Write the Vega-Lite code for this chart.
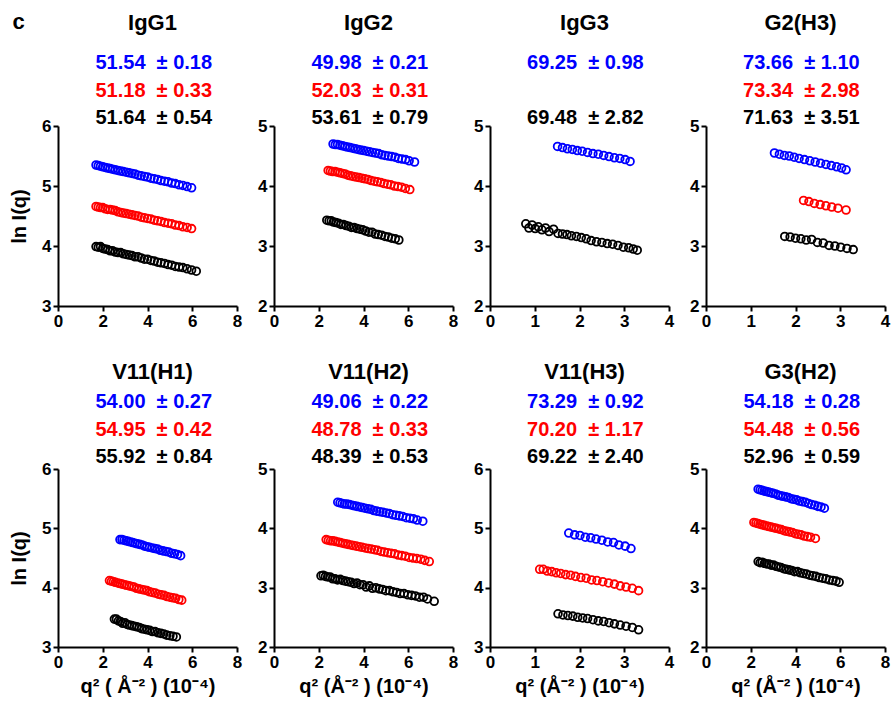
{
"$schema":"https://vega.github.io/schema/vega-lite/v6.json",
"padding":{"left":9,"top":11,"right":2,"bottom":2},
"background":"#ffffff",
"title":{"text":"c","anchor":"start","offset":-39,"dx":3,"baseline":"alphabetic","fontSize":22},
"config":{
 "font":"Liberation Sans",
 "view":{"stroke":null},
 "axis":{"domainColor":"#000000","domainWidth":2,"tickColor":"#000000","tickWidth":2,"tickSize":5,"labelFontSize":17,"labelFontWeight":"bold","labelColor":"#000000","grid":false,"labelFlush":false,"labelOverlap":false,"titleFontSize":20,"titleFontWeight":"bold","titleColor":"#000000","labelPadding":2},
 "axisY":{"titlePadding":12,"titleFontSize":20},
 "axisX":{"titlePadding":6},
 "title":{"fontSize":22,"fontWeight":"bold","color":"#000000"}
},
"datasets":{
"ann":[
{"p":"IgG1","s":"s1","label":"51.54\u00a0\u00a0± 0.18"},{"p":"IgG1","s":"s2","label":"51.18\u00a0\u00a0± 0.33"},{"p":"IgG1","s":"s3","label":"51.64\u00a0\u00a0± 0.54"},
{"p":"IgG2","s":"s1","label":"49.98\u00a0\u00a0± 0.21"},{"p":"IgG2","s":"s2","label":"52.03\u00a0\u00a0± 0.31"},{"p":"IgG2","s":"s3","label":"53.61\u00a0\u00a0± 0.79"},
{"p":"IgG3","s":"s1","label":"69.25\u00a0\u00a0± 0.98"},{"p":"IgG3","s":"s3","label":"69.48\u00a0\u00a0± 2.82"},
{"p":"G2(H3)","s":"s1","label":"73.66\u00a0\u00a0± 1.10"},{"p":"G2(H3)","s":"s2","label":"73.34\u00a0\u00a0± 2.98"},{"p":"G2(H3)","s":"s3","label":"71.63\u00a0\u00a0± 3.51"},
{"p":"V11(H1)","s":"s1","label":"54.00\u00a0\u00a0± 0.27"},{"p":"V11(H1)","s":"s2","label":"54.95\u00a0\u00a0± 0.42"},{"p":"V11(H1)","s":"s3","label":"55.92\u00a0\u00a0± 0.84"},
{"p":"V11(H2)","s":"s1","label":"49.06\u00a0\u00a0± 0.22"},{"p":"V11(H2)","s":"s2","label":"48.78\u00a0\u00a0± 0.33"},{"p":"V11(H2)","s":"s3","label":"48.39\u00a0\u00a0± 0.53"},
{"p":"V11(H3)","s":"s1","label":"73.29\u00a0\u00a0± 0.92"},{"p":"V11(H3)","s":"s2","label":"70.20\u00a0\u00a0± 1.17"},{"p":"V11(H3)","s":"s3","label":"69.22\u00a0\u00a0± 2.40"},
{"p":"G3(H2)","s":"s1","label":"54.18\u00a0\u00a0± 0.28"},{"p":"G3(H2)","s":"s2","label":"54.48\u00a0\u00a0± 0.56"},{"p":"G3(H2)","s":"s3","label":"52.96\u00a0\u00a0± 0.59"}
],
"pts":[
{"p":"IgG1","s":"s1","x":1.70,"y":5.35},{"p":"IgG1","s":"s1","x":1.80,"y":5.34},{"p":"IgG1","s":"s1","x":1.90,"y":5.33},{"p":"IgG1","s":"s1","x":2.00,"y":5.32},{"p":"IgG1","s":"s1","x":2.11,"y":5.31},{"p":"IgG1","s":"s1","x":2.22,"y":5.30},{"p":"IgG1","s":"s1","x":2.33,"y":5.29},{"p":"IgG1","s":"s1","x":2.44,"y":5.28},{"p":"IgG1","s":"s1","x":2.56,"y":5.27},{"p":"IgG1","s":"s1","x":2.68,"y":5.26},{"p":"IgG1","s":"s1","x":2.80,"y":5.25},{"p":"IgG1","s":"s1","x":2.92,"y":5.24},{"p":"IgG1","s":"s1","x":3.05,"y":5.23},{"p":"IgG1","s":"s1","x":3.18,"y":5.22},{"p":"IgG1","s":"s1","x":3.31,"y":5.21},{"p":"IgG1","s":"s1","x":3.44,"y":5.20},{"p":"IgG1","s":"s1","x":3.58,"y":5.18},{"p":"IgG1","s":"s1","x":3.72,"y":5.17},{"p":"IgG1","s":"s1","x":3.86,"y":5.16},{"p":"IgG1","s":"s1","x":4.00,"y":5.15},{"p":"IgG1","s":"s1","x":4.15,"y":5.13},{"p":"IgG1","s":"s1","x":4.30,"y":5.12},{"p":"IgG1","s":"s1","x":4.45,"y":5.11},{"p":"IgG1","s":"s1","x":4.60,"y":5.09},{"p":"IgG1","s":"s1","x":4.76,"y":5.08},{"p":"IgG1","s":"s1","x":4.92,"y":5.07},{"p":"IgG1","s":"s1","x":5.08,"y":5.05},{"p":"IgG1","s":"s1","x":5.24,"y":5.04},{"p":"IgG1","s":"s1","x":5.41,"y":5.02},{"p":"IgG1","s":"s1","x":5.58,"y":5.01},{"p":"IgG1","s":"s1","x":5.77,"y":4.99},{"p":"IgG1","s":"s1","x":5.97,"y":4.97},
{"p":"IgG1","s":"s2","x":1.70,"y":4.66},{"p":"IgG1","s":"s2","x":1.80,"y":4.65},{"p":"IgG1","s":"s2","x":1.90,"y":4.64},{"p":"IgG1","s":"s2","x":2.00,"y":4.64},{"p":"IgG1","s":"s2","x":2.11,"y":4.62},{"p":"IgG1","s":"s2","x":2.22,"y":4.61},{"p":"IgG1","s":"s2","x":2.33,"y":4.61},{"p":"IgG1","s":"s2","x":2.44,"y":4.60},{"p":"IgG1","s":"s2","x":2.56,"y":4.59},{"p":"IgG1","s":"s2","x":2.68,"y":4.57},{"p":"IgG1","s":"s2","x":2.80,"y":4.56},{"p":"IgG1","s":"s2","x":2.92,"y":4.55},{"p":"IgG1","s":"s2","x":3.05,"y":4.54},{"p":"IgG1","s":"s2","x":3.18,"y":4.53},{"p":"IgG1","s":"s2","x":3.31,"y":4.52},{"p":"IgG1","s":"s2","x":3.44,"y":4.51},{"p":"IgG1","s":"s2","x":3.58,"y":4.50},{"p":"IgG1","s":"s2","x":3.72,"y":4.48},{"p":"IgG1","s":"s2","x":3.86,"y":4.47},{"p":"IgG1","s":"s2","x":4.00,"y":4.46},{"p":"IgG1","s":"s2","x":4.15,"y":4.45},{"p":"IgG1","s":"s2","x":4.30,"y":4.43},{"p":"IgG1","s":"s2","x":4.45,"y":4.42},{"p":"IgG1","s":"s2","x":4.60,"y":4.41},{"p":"IgG1","s":"s2","x":4.76,"y":4.39},{"p":"IgG1","s":"s2","x":4.92,"y":4.38},{"p":"IgG1","s":"s2","x":5.08,"y":4.37},{"p":"IgG1","s":"s2","x":5.24,"y":4.35},{"p":"IgG1","s":"s2","x":5.41,"y":4.34},{"p":"IgG1","s":"s2","x":5.58,"y":4.32},{"p":"IgG1","s":"s2","x":5.77,"y":4.31},{"p":"IgG1","s":"s2","x":5.97,"y":4.29},
{"p":"IgG1","s":"s3","x":1.70,"y":3.99},{"p":"IgG1","s":"s3","x":1.80,"y":3.98},{"p":"IgG1","s":"s3","x":1.90,"y":3.99},{"p":"IgG1","s":"s3","x":2.00,"y":3.96},{"p":"IgG1","s":"s3","x":2.11,"y":3.95},{"p":"IgG1","s":"s3","x":2.22,"y":3.94},{"p":"IgG1","s":"s3","x":2.33,"y":3.92},{"p":"IgG1","s":"s3","x":2.44,"y":3.92},{"p":"IgG1","s":"s3","x":2.56,"y":3.90},{"p":"IgG1","s":"s3","x":2.68,"y":3.89},{"p":"IgG1","s":"s3","x":2.80,"y":3.89},{"p":"IgG1","s":"s3","x":2.92,"y":3.87},{"p":"IgG1","s":"s3","x":3.05,"y":3.86},{"p":"IgG1","s":"s3","x":3.18,"y":3.85},{"p":"IgG1","s":"s3","x":3.31,"y":3.84},{"p":"IgG1","s":"s3","x":3.44,"y":3.82},{"p":"IgG1","s":"s3","x":3.58,"y":3.82},{"p":"IgG1","s":"s3","x":3.72,"y":3.80},{"p":"IgG1","s":"s3","x":3.86,"y":3.78},{"p":"IgG1","s":"s3","x":4.00,"y":3.78},{"p":"IgG1","s":"s3","x":4.15,"y":3.76},{"p":"IgG1","s":"s3","x":4.30,"y":3.75},{"p":"IgG1","s":"s3","x":4.45,"y":3.73},{"p":"IgG1","s":"s3","x":4.60,"y":3.72},{"p":"IgG1","s":"s3","x":4.76,"y":3.71},{"p":"IgG1","s":"s3","x":4.92,"y":3.69},{"p":"IgG1","s":"s3","x":5.08,"y":3.68},{"p":"IgG1","s":"s3","x":5.24,"y":3.66},{"p":"IgG1","s":"s3","x":5.41,"y":3.65},{"p":"IgG1","s":"s3","x":5.58,"y":3.64},{"p":"IgG1","s":"s3","x":5.77,"y":3.62},{"p":"IgG1","s":"s3","x":5.97,"y":3.60},{"p":"IgG1","s":"s3","x":6.18,"y":3.58},
{"p":"IgG2","s":"s1","x":2.64,"y":4.70},{"p":"IgG2","s":"s1","x":2.74,"y":4.69},{"p":"IgG2","s":"s1","x":2.84,"y":4.69},{"p":"IgG2","s":"s1","x":2.95,"y":4.68},{"p":"IgG2","s":"s1","x":3.06,"y":4.67},{"p":"IgG2","s":"s1","x":3.17,"y":4.66},{"p":"IgG2","s":"s1","x":3.28,"y":4.65},{"p":"IgG2","s":"s1","x":3.40,"y":4.64},{"p":"IgG2","s":"s1","x":3.52,"y":4.63},{"p":"IgG2","s":"s1","x":3.64,"y":4.62},{"p":"IgG2","s":"s1","x":3.76,"y":4.61},{"p":"IgG2","s":"s1","x":3.88,"y":4.60},{"p":"IgG2","s":"s1","x":4.01,"y":4.59},{"p":"IgG2","s":"s1","x":4.14,"y":4.58},{"p":"IgG2","s":"s1","x":4.27,"y":4.57},{"p":"IgG2","s":"s1","x":4.40,"y":4.56},{"p":"IgG2","s":"s1","x":4.54,"y":4.55},{"p":"IgG2","s":"s1","x":4.68,"y":4.54},{"p":"IgG2","s":"s1","x":4.82,"y":4.52},{"p":"IgG2","s":"s1","x":4.96,"y":4.51},{"p":"IgG2","s":"s1","x":5.11,"y":4.50},{"p":"IgG2","s":"s1","x":5.26,"y":4.49},{"p":"IgG2","s":"s1","x":5.41,"y":4.48},{"p":"IgG2","s":"s1","x":5.56,"y":4.46},{"p":"IgG2","s":"s1","x":5.72,"y":4.45},{"p":"IgG2","s":"s1","x":5.88,"y":4.44},{"p":"IgG2","s":"s1","x":6.04,"y":4.42},{"p":"IgG2","s":"s1","x":6.28,"y":4.40},
{"p":"IgG2","s":"s2","x":2.42,"y":4.26},{"p":"IgG2","s":"s2","x":2.52,"y":4.25},{"p":"IgG2","s":"s2","x":2.62,"y":4.24},{"p":"IgG2","s":"s2","x":2.73,"y":4.24},{"p":"IgG2","s":"s2","x":2.84,"y":4.23},{"p":"IgG2","s":"s2","x":2.95,"y":4.22},{"p":"IgG2","s":"s2","x":3.06,"y":4.21},{"p":"IgG2","s":"s2","x":3.18,"y":4.20},{"p":"IgG2","s":"s2","x":3.30,"y":4.18},{"p":"IgG2","s":"s2","x":3.42,"y":4.17},{"p":"IgG2","s":"s2","x":3.54,"y":4.16},{"p":"IgG2","s":"s2","x":3.67,"y":4.15},{"p":"IgG2","s":"s2","x":3.80,"y":4.14},{"p":"IgG2","s":"s2","x":3.93,"y":4.13},{"p":"IgG2","s":"s2","x":4.06,"y":4.12},{"p":"IgG2","s":"s2","x":4.20,"y":4.11},{"p":"IgG2","s":"s2","x":4.34,"y":4.09},{"p":"IgG2","s":"s2","x":4.48,"y":4.08},{"p":"IgG2","s":"s2","x":4.62,"y":4.07},{"p":"IgG2","s":"s2","x":4.77,"y":4.06},{"p":"IgG2","s":"s2","x":4.92,"y":4.04},{"p":"IgG2","s":"s2","x":5.07,"y":4.03},{"p":"IgG2","s":"s2","x":5.22,"y":4.02},{"p":"IgG2","s":"s2","x":5.38,"y":4.00},{"p":"IgG2","s":"s2","x":5.54,"y":3.99},{"p":"IgG2","s":"s2","x":5.70,"y":3.98},{"p":"IgG2","s":"s2","x":5.87,"y":3.96},{"p":"IgG2","s":"s2","x":6.07,"y":3.94},
{"p":"IgG2","s":"s3","x":2.36,"y":3.43},{"p":"IgG2","s":"s3","x":2.46,"y":3.42},{"p":"IgG2","s":"s3","x":2.56,"y":3.42},{"p":"IgG2","s":"s3","x":2.66,"y":3.40},{"p":"IgG2","s":"s3","x":2.77,"y":3.39},{"p":"IgG2","s":"s3","x":2.88,"y":3.38},{"p":"IgG2","s":"s3","x":2.99,"y":3.36},{"p":"IgG2","s":"s3","x":3.10,"y":3.36},{"p":"IgG2","s":"s3","x":3.22,"y":3.34},{"p":"IgG2","s":"s3","x":3.34,"y":3.33},{"p":"IgG2","s":"s3","x":3.46,"y":3.31},{"p":"IgG2","s":"s3","x":3.58,"y":3.31},{"p":"IgG2","s":"s3","x":3.71,"y":3.29},{"p":"IgG2","s":"s3","x":3.84,"y":3.28},{"p":"IgG2","s":"s3","x":3.97,"y":3.27},{"p":"IgG2","s":"s3","x":4.10,"y":3.25},{"p":"IgG2","s":"s3","x":4.24,"y":3.23},{"p":"IgG2","s":"s3","x":4.38,"y":3.23},{"p":"IgG2","s":"s3","x":4.52,"y":3.20},{"p":"IgG2","s":"s3","x":4.66,"y":3.19},{"p":"IgG2","s":"s3","x":4.81,"y":3.18},{"p":"IgG2","s":"s3","x":4.96,"y":3.16},{"p":"IgG2","s":"s3","x":5.11,"y":3.15},{"p":"IgG2","s":"s3","x":5.26,"y":3.13},{"p":"IgG2","s":"s3","x":5.42,"y":3.12},{"p":"IgG2","s":"s3","x":5.58,"y":3.10},
{"p":"IgG3","s":"s1","x":1.51,"y":4.66},{"p":"IgG3","s":"s1","x":1.62,"y":4.64},{"p":"IgG3","s":"s1","x":1.73,"y":4.62},{"p":"IgG3","s":"s1","x":1.84,"y":4.61},{"p":"IgG3","s":"s1","x":1.95,"y":4.59},{"p":"IgG3","s":"s1","x":2.06,"y":4.58},{"p":"IgG3","s":"s1","x":2.18,"y":4.56},{"p":"IgG3","s":"s1","x":2.30,"y":4.54},{"p":"IgG3","s":"s1","x":2.42,"y":4.53},{"p":"IgG3","s":"s1","x":2.54,"y":4.51},{"p":"IgG3","s":"s1","x":2.66,"y":4.49},{"p":"IgG3","s":"s1","x":2.78,"y":4.47},{"p":"IgG3","s":"s1","x":2.90,"y":4.46},{"p":"IgG3","s":"s1","x":3.02,"y":4.44},{"p":"IgG3","s":"s1","x":3.13,"y":4.41},
{"p":"IgG3","s":"s3","x":0.80,"y":3.37},{"p":"IgG3","s":"s3","x":0.87,"y":3.30},{"p":"IgG3","s":"s3","x":0.94,"y":3.35},{"p":"IgG3","s":"s3","x":1.01,"y":3.29},{"p":"IgG3","s":"s3","x":1.08,"y":3.32},{"p":"IgG3","s":"s3","x":1.16,"y":3.27},{"p":"IgG3","s":"s3","x":1.24,"y":3.30},{"p":"IgG3","s":"s3","x":1.32,"y":3.24},{"p":"IgG3","s":"s3","x":1.42,"y":3.28},{"p":"IgG3","s":"s3","x":1.52,"y":3.21},{"p":"IgG3","s":"s3","x":1.62,"y":3.20},{"p":"IgG3","s":"s3","x":1.72,"y":3.19},{"p":"IgG3","s":"s3","x":1.82,"y":3.17},{"p":"IgG3","s":"s3","x":1.93,"y":3.16},{"p":"IgG3","s":"s3","x":2.04,"y":3.14},{"p":"IgG3","s":"s3","x":2.15,"y":3.12},{"p":"IgG3","s":"s3","x":2.26,"y":3.09},{"p":"IgG3","s":"s3","x":2.38,"y":3.07},{"p":"IgG3","s":"s3","x":2.50,"y":3.06},{"p":"IgG3","s":"s3","x":2.62,"y":3.04},{"p":"IgG3","s":"s3","x":2.74,"y":3.03},{"p":"IgG3","s":"s3","x":2.86,"y":3.01},{"p":"IgG3","s":"s3","x":2.98,"y":2.98},{"p":"IgG3","s":"s3","x":3.10,"y":2.97},{"p":"IgG3","s":"s3","x":3.20,"y":2.95},{"p":"IgG3","s":"s3","x":3.29,"y":2.93},
{"p":"G2(H3)","s":"s1","x":1.53,"y":4.55},{"p":"G2(H3)","s":"s1","x":1.64,"y":4.53},{"p":"G2(H3)","s":"s1","x":1.75,"y":4.51},{"p":"G2(H3)","s":"s1","x":1.86,"y":4.50},{"p":"G2(H3)","s":"s1","x":1.97,"y":4.48},{"p":"G2(H3)","s":"s1","x":2.08,"y":4.46},{"p":"G2(H3)","s":"s1","x":2.20,"y":4.44},{"p":"G2(H3)","s":"s1","x":2.32,"y":4.42},{"p":"G2(H3)","s":"s1","x":2.44,"y":4.40},{"p":"G2(H3)","s":"s1","x":2.56,"y":4.38},{"p":"G2(H3)","s":"s1","x":2.68,"y":4.36},{"p":"G2(H3)","s":"s1","x":2.80,"y":4.34},{"p":"G2(H3)","s":"s1","x":2.92,"y":4.32},{"p":"G2(H3)","s":"s1","x":3.03,"y":4.30},{"p":"G2(H3)","s":"s1","x":3.13,"y":4.27},
{"p":"G2(H3)","s":"s2","x":2.18,"y":3.76},{"p":"G2(H3)","s":"s2","x":2.30,"y":3.74},{"p":"G2(H3)","s":"s2","x":2.42,"y":3.71},{"p":"G2(H3)","s":"s2","x":2.55,"y":3.69},{"p":"G2(H3)","s":"s2","x":2.68,"y":3.67},{"p":"G2(H3)","s":"s2","x":2.81,"y":3.65},{"p":"G2(H3)","s":"s2","x":2.95,"y":3.63},{"p":"G2(H3)","s":"s2","x":3.13,"y":3.60},
{"p":"G2(H3)","s":"s3","x":1.76,"y":3.16},{"p":"G2(H3)","s":"s3","x":1.88,"y":3.15},{"p":"G2(H3)","s":"s3","x":2.00,"y":3.13},{"p":"G2(H3)","s":"s3","x":2.12,"y":3.12},{"p":"G2(H3)","s":"s3","x":2.24,"y":3.10},{"p":"G2(H3)","s":"s3","x":2.36,"y":3.11},{"p":"G2(H3)","s":"s3","x":2.49,"y":3.06},{"p":"G2(H3)","s":"s3","x":2.62,"y":3.05},{"p":"G2(H3)","s":"s3","x":2.75,"y":3.01},{"p":"G2(H3)","s":"s3","x":2.88,"y":3.00},{"p":"G2(H3)","s":"s3","x":3.01,"y":2.98},{"p":"G2(H3)","s":"s3","x":3.15,"y":2.96},{"p":"G2(H3)","s":"s3","x":3.29,"y":2.94},
{"p":"V11(H1)","s":"s1","x":2.77,"y":4.81},{"p":"V11(H1)","s":"s1","x":2.86,"y":4.81},{"p":"V11(H1)","s":"s1","x":2.95,"y":4.80},{"p":"V11(H1)","s":"s1","x":3.04,"y":4.79},{"p":"V11(H1)","s":"s1","x":3.14,"y":4.78},{"p":"V11(H1)","s":"s1","x":3.24,"y":4.77},{"p":"V11(H1)","s":"s1","x":3.34,"y":4.76},{"p":"V11(H1)","s":"s1","x":3.44,"y":4.75},{"p":"V11(H1)","s":"s1","x":3.54,"y":4.74},{"p":"V11(H1)","s":"s1","x":3.65,"y":4.73},{"p":"V11(H1)","s":"s1","x":3.76,"y":4.72},{"p":"V11(H1)","s":"s1","x":3.87,"y":4.70},{"p":"V11(H1)","s":"s1","x":3.98,"y":4.69},{"p":"V11(H1)","s":"s1","x":4.09,"y":4.68},{"p":"V11(H1)","s":"s1","x":4.21,"y":4.67},{"p":"V11(H1)","s":"s1","x":4.33,"y":4.66},{"p":"V11(H1)","s":"s1","x":4.45,"y":4.65},{"p":"V11(H1)","s":"s1","x":4.57,"y":4.63},{"p":"V11(H1)","s":"s1","x":4.69,"y":4.62},{"p":"V11(H1)","s":"s1","x":4.82,"y":4.61},{"p":"V11(H1)","s":"s1","x":4.95,"y":4.60},{"p":"V11(H1)","s":"s1","x":5.08,"y":4.58},{"p":"V11(H1)","s":"s1","x":5.21,"y":4.57},{"p":"V11(H1)","s":"s1","x":5.34,"y":4.56},{"p":"V11(H1)","s":"s1","x":5.48,"y":4.54},
{"p":"V11(H1)","s":"s2","x":2.30,"y":4.12},{"p":"V11(H1)","s":"s2","x":2.39,"y":4.11},{"p":"V11(H1)","s":"s2","x":2.48,"y":4.10},{"p":"V11(H1)","s":"s2","x":2.57,"y":4.09},{"p":"V11(H1)","s":"s2","x":2.67,"y":4.08},{"p":"V11(H1)","s":"s2","x":2.77,"y":4.07},{"p":"V11(H1)","s":"s2","x":2.87,"y":4.06},{"p":"V11(H1)","s":"s2","x":2.97,"y":4.05},{"p":"V11(H1)","s":"s2","x":3.07,"y":4.04},{"p":"V11(H1)","s":"s2","x":3.18,"y":4.03},{"p":"V11(H1)","s":"s2","x":3.29,"y":4.02},{"p":"V11(H1)","s":"s2","x":3.40,"y":4.01},{"p":"V11(H1)","s":"s2","x":3.51,"y":3.99},{"p":"V11(H1)","s":"s2","x":3.62,"y":3.98},{"p":"V11(H1)","s":"s2","x":3.74,"y":3.97},{"p":"V11(H1)","s":"s2","x":3.86,"y":3.96},{"p":"V11(H1)","s":"s2","x":3.98,"y":3.95},{"p":"V11(H1)","s":"s2","x":4.10,"y":3.93},{"p":"V11(H1)","s":"s2","x":4.22,"y":3.92},{"p":"V11(H1)","s":"s2","x":4.35,"y":3.91},{"p":"V11(H1)","s":"s2","x":4.48,"y":3.89},{"p":"V11(H1)","s":"s2","x":4.61,"y":3.88},{"p":"V11(H1)","s":"s2","x":4.74,"y":3.87},{"p":"V11(H1)","s":"s2","x":4.87,"y":3.85},{"p":"V11(H1)","s":"s2","x":5.00,"y":3.84},{"p":"V11(H1)","s":"s2","x":5.13,"y":3.83},{"p":"V11(H1)","s":"s2","x":5.26,"y":3.82},{"p":"V11(H1)","s":"s2","x":5.40,"y":3.80},{"p":"V11(H1)","s":"s2","x":5.53,"y":3.79},
{"p":"V11(H1)","s":"s3","x":2.52,"y":3.47},{"p":"V11(H1)","s":"s3","x":2.61,"y":3.47},{"p":"V11(H1)","s":"s3","x":2.70,"y":3.44},{"p":"V11(H1)","s":"s3","x":2.79,"y":3.43},{"p":"V11(H1)","s":"s3","x":2.89,"y":3.40},{"p":"V11(H1)","s":"s3","x":2.99,"y":3.41},{"p":"V11(H1)","s":"s3","x":3.09,"y":3.38},{"p":"V11(H1)","s":"s3","x":3.19,"y":3.37},{"p":"V11(H1)","s":"s3","x":3.30,"y":3.36},{"p":"V11(H1)","s":"s3","x":3.41,"y":3.35},{"p":"V11(H1)","s":"s3","x":3.52,"y":3.34},{"p":"V11(H1)","s":"s3","x":3.63,"y":3.33},{"p":"V11(H1)","s":"s3","x":3.74,"y":3.31},{"p":"V11(H1)","s":"s3","x":3.86,"y":3.30},{"p":"V11(H1)","s":"s3","x":3.98,"y":3.29},{"p":"V11(H1)","s":"s3","x":4.10,"y":3.28},{"p":"V11(H1)","s":"s3","x":4.22,"y":3.26},{"p":"V11(H1)","s":"s3","x":4.34,"y":3.26},{"p":"V11(H1)","s":"s3","x":4.47,"y":3.24},{"p":"V11(H1)","s":"s3","x":4.60,"y":3.23},{"p":"V11(H1)","s":"s3","x":4.73,"y":3.22},{"p":"V11(H1)","s":"s3","x":4.86,"y":3.20},{"p":"V11(H1)","s":"s3","x":5.00,"y":3.19},{"p":"V11(H1)","s":"s3","x":5.14,"y":3.18},{"p":"V11(H1)","s":"s3","x":5.29,"y":3.17},
{"p":"V11(H2)","s":"s1","x":2.85,"y":4.44},{"p":"V11(H2)","s":"s1","x":2.95,"y":4.43},{"p":"V11(H2)","s":"s1","x":3.05,"y":4.42},{"p":"V11(H2)","s":"s1","x":3.15,"y":4.41},{"p":"V11(H2)","s":"s1","x":3.26,"y":4.41},{"p":"V11(H2)","s":"s1","x":3.37,"y":4.40},{"p":"V11(H2)","s":"s1","x":3.48,"y":4.39},{"p":"V11(H2)","s":"s1","x":3.59,"y":4.38},{"p":"V11(H2)","s":"s1","x":3.71,"y":4.37},{"p":"V11(H2)","s":"s1","x":3.83,"y":4.36},{"p":"V11(H2)","s":"s1","x":3.95,"y":4.35},{"p":"V11(H2)","s":"s1","x":4.07,"y":4.34},{"p":"V11(H2)","s":"s1","x":4.20,"y":4.33},{"p":"V11(H2)","s":"s1","x":4.33,"y":4.32},{"p":"V11(H2)","s":"s1","x":4.46,"y":4.30},{"p":"V11(H2)","s":"s1","x":4.59,"y":4.29},{"p":"V11(H2)","s":"s1","x":4.73,"y":4.28},{"p":"V11(H2)","s":"s1","x":4.87,"y":4.27},{"p":"V11(H2)","s":"s1","x":5.01,"y":4.26},{"p":"V11(H2)","s":"s1","x":5.15,"y":4.25},{"p":"V11(H2)","s":"s1","x":5.30,"y":4.23},{"p":"V11(H2)","s":"s1","x":5.45,"y":4.22},{"p":"V11(H2)","s":"s1","x":5.60,"y":4.21},{"p":"V11(H2)","s":"s1","x":5.75,"y":4.20},{"p":"V11(H2)","s":"s1","x":5.91,"y":4.18},{"p":"V11(H2)","s":"s1","x":6.07,"y":4.17},{"p":"V11(H2)","s":"s1","x":6.23,"y":4.16},{"p":"V11(H2)","s":"s1","x":6.40,"y":4.14},{"p":"V11(H2)","s":"s1","x":6.65,"y":4.12},
{"p":"V11(H2)","s":"s2","x":2.33,"y":3.81},{"p":"V11(H2)","s":"s2","x":2.43,"y":3.80},{"p":"V11(H2)","s":"s2","x":2.53,"y":3.79},{"p":"V11(H2)","s":"s2","x":2.63,"y":3.79},{"p":"V11(H2)","s":"s2","x":2.74,"y":3.78},{"p":"V11(H2)","s":"s2","x":2.85,"y":3.77},{"p":"V11(H2)","s":"s2","x":2.96,"y":3.76},{"p":"V11(H2)","s":"s2","x":3.07,"y":3.75},{"p":"V11(H2)","s":"s2","x":3.19,"y":3.74},{"p":"V11(H2)","s":"s2","x":3.31,"y":3.73},{"p":"V11(H2)","s":"s2","x":3.43,"y":3.72},{"p":"V11(H2)","s":"s2","x":3.55,"y":3.71},{"p":"V11(H2)","s":"s2","x":3.68,"y":3.70},{"p":"V11(H2)","s":"s2","x":3.81,"y":3.69},{"p":"V11(H2)","s":"s2","x":3.94,"y":3.68},{"p":"V11(H2)","s":"s2","x":4.07,"y":3.67},{"p":"V11(H2)","s":"s2","x":4.21,"y":3.66},{"p":"V11(H2)","s":"s2","x":4.35,"y":3.65},{"p":"V11(H2)","s":"s2","x":4.49,"y":3.64},{"p":"V11(H2)","s":"s2","x":4.63,"y":3.63},{"p":"V11(H2)","s":"s2","x":4.78,"y":3.61},{"p":"V11(H2)","s":"s2","x":4.93,"y":3.60},{"p":"V11(H2)","s":"s2","x":5.08,"y":3.59},{"p":"V11(H2)","s":"s2","x":5.23,"y":3.58},{"p":"V11(H2)","s":"s2","x":5.39,"y":3.57},{"p":"V11(H2)","s":"s2","x":5.55,"y":3.55},{"p":"V11(H2)","s":"s2","x":5.71,"y":3.54},{"p":"V11(H2)","s":"s2","x":5.87,"y":3.53},{"p":"V11(H2)","s":"s2","x":6.04,"y":3.51},{"p":"V11(H2)","s":"s2","x":6.21,"y":3.50},{"p":"V11(H2)","s":"s2","x":6.38,"y":3.49},{"p":"V11(H2)","s":"s2","x":6.56,"y":3.48},{"p":"V11(H2)","s":"s2","x":6.74,"y":3.46},{"p":"V11(H2)","s":"s2","x":6.94,"y":3.44},
{"p":"V11(H2)","s":"s3","x":2.10,"y":3.20},{"p":"V11(H2)","s":"s3","x":2.20,"y":3.21},{"p":"V11(H2)","s":"s3","x":2.30,"y":3.19},{"p":"V11(H2)","s":"s3","x":2.40,"y":3.18},{"p":"V11(H2)","s":"s3","x":2.51,"y":3.18},{"p":"V11(H2)","s":"s3","x":2.62,"y":3.15},{"p":"V11(H2)","s":"s3","x":2.73,"y":3.15},{"p":"V11(H2)","s":"s3","x":2.84,"y":3.13},{"p":"V11(H2)","s":"s3","x":2.96,"y":3.14},{"p":"V11(H2)","s":"s3","x":3.08,"y":3.12},{"p":"V11(H2)","s":"s3","x":3.20,"y":3.11},{"p":"V11(H2)","s":"s3","x":3.32,"y":3.10},{"p":"V11(H2)","s":"s3","x":3.45,"y":3.09},{"p":"V11(H2)","s":"s3","x":3.58,"y":3.07},{"p":"V11(H2)","s":"s3","x":3.71,"y":3.08},{"p":"V11(H2)","s":"s3","x":3.84,"y":3.05},{"p":"V11(H2)","s":"s3","x":3.98,"y":3.05},{"p":"V11(H2)","s":"s3","x":4.12,"y":3.01},{"p":"V11(H2)","s":"s3","x":4.26,"y":3.03},{"p":"V11(H2)","s":"s3","x":4.40,"y":2.99},{"p":"V11(H2)","s":"s3","x":4.55,"y":3.00},{"p":"V11(H2)","s":"s3","x":4.70,"y":2.98},{"p":"V11(H2)","s":"s3","x":4.85,"y":2.97},{"p":"V11(H2)","s":"s3","x":5.00,"y":2.95},{"p":"V11(H2)","s":"s3","x":5.16,"y":2.95},{"p":"V11(H2)","s":"s3","x":5.32,"y":2.93},{"p":"V11(H2)","s":"s3","x":5.48,"y":2.92},{"p":"V11(H2)","s":"s3","x":5.64,"y":2.90},{"p":"V11(H2)","s":"s3","x":5.81,"y":2.90},{"p":"V11(H2)","s":"s3","x":5.98,"y":2.88},{"p":"V11(H2)","s":"s3","x":6.15,"y":2.87},{"p":"V11(H2)","s":"s3","x":6.32,"y":2.86},{"p":"V11(H2)","s":"s3","x":6.50,"y":2.84},{"p":"V11(H2)","s":"s3","x":6.68,"y":2.84},{"p":"V11(H2)","s":"s3","x":6.86,"y":2.81},{"p":"V11(H2)","s":"s3","x":7.16,"y":2.77},
{"p":"V11(H3)","s":"s1","x":1.76,"y":4.92},{"p":"V11(H3)","s":"s1","x":1.89,"y":4.89},{"p":"V11(H3)","s":"s1","x":2.01,"y":4.88},{"p":"V11(H3)","s":"s1","x":2.13,"y":4.85},{"p":"V11(H3)","s":"s1","x":2.25,"y":4.84},{"p":"V11(H3)","s":"s1","x":2.37,"y":4.82},{"p":"V11(H3)","s":"s1","x":2.50,"y":4.80},{"p":"V11(H3)","s":"s1","x":2.63,"y":4.77},{"p":"V11(H3)","s":"s1","x":2.76,"y":4.76},{"p":"V11(H3)","s":"s1","x":2.88,"y":4.72},{"p":"V11(H3)","s":"s1","x":3.02,"y":4.70},{"p":"V11(H3)","s":"s1","x":3.15,"y":4.66},
{"p":"V11(H3)","s":"s2","x":1.11,"y":4.31},{"p":"V11(H3)","s":"s2","x":1.19,"y":4.31},{"p":"V11(H3)","s":"s2","x":1.28,"y":4.28},{"p":"V11(H3)","s":"s2","x":1.38,"y":4.27},{"p":"V11(H3)","s":"s2","x":1.48,"y":4.25},{"p":"V11(H3)","s":"s2","x":1.58,"y":4.24},{"p":"V11(H3)","s":"s2","x":1.69,"y":4.22},{"p":"V11(H3)","s":"s2","x":1.80,"y":4.21},{"p":"V11(H3)","s":"s2","x":1.91,"y":4.19},{"p":"V11(H3)","s":"s2","x":2.03,"y":4.17},{"p":"V11(H3)","s":"s2","x":2.15,"y":4.16},{"p":"V11(H3)","s":"s2","x":2.27,"y":4.13},{"p":"V11(H3)","s":"s2","x":2.39,"y":4.12},{"p":"V11(H3)","s":"s2","x":2.52,"y":4.10},{"p":"V11(H3)","s":"s2","x":2.65,"y":4.08},{"p":"V11(H3)","s":"s2","x":2.78,"y":4.06},{"p":"V11(H3)","s":"s2","x":2.91,"y":4.03},{"p":"V11(H3)","s":"s2","x":3.04,"y":4.01},{"p":"V11(H3)","s":"s2","x":3.18,"y":3.99},{"p":"V11(H3)","s":"s2","x":3.32,"y":3.95},
{"p":"V11(H3)","s":"s3","x":1.52,"y":3.56},{"p":"V11(H3)","s":"s3","x":1.63,"y":3.54},{"p":"V11(H3)","s":"s3","x":1.74,"y":3.53},{"p":"V11(H3)","s":"s3","x":1.85,"y":3.52},{"p":"V11(H3)","s":"s3","x":1.96,"y":3.50},{"p":"V11(H3)","s":"s3","x":2.07,"y":3.49},{"p":"V11(H3)","s":"s3","x":2.18,"y":3.48},{"p":"V11(H3)","s":"s3","x":2.30,"y":3.46},{"p":"V11(H3)","s":"s3","x":2.42,"y":3.44},{"p":"V11(H3)","s":"s3","x":2.54,"y":3.43},{"p":"V11(H3)","s":"s3","x":2.66,"y":3.41},{"p":"V11(H3)","s":"s3","x":2.78,"y":3.39},{"p":"V11(H3)","s":"s3","x":2.91,"y":3.37},{"p":"V11(H3)","s":"s3","x":3.04,"y":3.35},{"p":"V11(H3)","s":"s3","x":3.18,"y":3.33},{"p":"V11(H3)","s":"s3","x":3.32,"y":3.29},
{"p":"G3(H2)","s":"s1","x":2.33,"y":4.66},{"p":"G3(H2)","s":"s1","x":2.42,"y":4.65},{"p":"G3(H2)","s":"s1","x":2.51,"y":4.64},{"p":"G3(H2)","s":"s1","x":2.60,"y":4.63},{"p":"G3(H2)","s":"s1","x":2.70,"y":4.62},{"p":"G3(H2)","s":"s1","x":2.80,"y":4.61},{"p":"G3(H2)","s":"s1","x":2.90,"y":4.60},{"p":"G3(H2)","s":"s1","x":3.00,"y":4.59},{"p":"G3(H2)","s":"s1","x":3.11,"y":4.58},{"p":"G3(H2)","s":"s1","x":3.22,"y":4.56},{"p":"G3(H2)","s":"s1","x":3.33,"y":4.55},{"p":"G3(H2)","s":"s1","x":3.44,"y":4.54},{"p":"G3(H2)","s":"s1","x":3.56,"y":4.53},{"p":"G3(H2)","s":"s1","x":3.68,"y":4.52},{"p":"G3(H2)","s":"s1","x":3.80,"y":4.50},{"p":"G3(H2)","s":"s1","x":3.92,"y":4.49},{"p":"G3(H2)","s":"s1","x":4.05,"y":4.48},{"p":"G3(H2)","s":"s1","x":4.18,"y":4.46},{"p":"G3(H2)","s":"s1","x":4.31,"y":4.45},{"p":"G3(H2)","s":"s1","x":4.44,"y":4.44},{"p":"G3(H2)","s":"s1","x":4.58,"y":4.42},{"p":"G3(H2)","s":"s1","x":4.72,"y":4.40},{"p":"G3(H2)","s":"s1","x":4.86,"y":4.39},{"p":"G3(H2)","s":"s1","x":5.00,"y":4.37},{"p":"G3(H2)","s":"s1","x":5.14,"y":4.36},{"p":"G3(H2)","s":"s1","x":5.29,"y":4.34},
{"p":"G3(H2)","s":"s2","x":2.14,"y":4.10},{"p":"G3(H2)","s":"s2","x":2.23,"y":4.09},{"p":"G3(H2)","s":"s2","x":2.32,"y":4.08},{"p":"G3(H2)","s":"s2","x":2.41,"y":4.07},{"p":"G3(H2)","s":"s2","x":2.51,"y":4.06},{"p":"G3(H2)","s":"s2","x":2.61,"y":4.05},{"p":"G3(H2)","s":"s2","x":2.71,"y":4.04},{"p":"G3(H2)","s":"s2","x":2.81,"y":4.03},{"p":"G3(H2)","s":"s2","x":2.92,"y":4.02},{"p":"G3(H2)","s":"s2","x":3.03,"y":4.01},{"p":"G3(H2)","s":"s2","x":3.14,"y":4.00},{"p":"G3(H2)","s":"s2","x":3.25,"y":3.99},{"p":"G3(H2)","s":"s2","x":3.37,"y":3.98},{"p":"G3(H2)","s":"s2","x":3.49,"y":3.96},{"p":"G3(H2)","s":"s2","x":3.61,"y":3.95},{"p":"G3(H2)","s":"s2","x":3.73,"y":3.94},{"p":"G3(H2)","s":"s2","x":3.86,"y":3.93},{"p":"G3(H2)","s":"s2","x":3.99,"y":3.91},{"p":"G3(H2)","s":"s2","x":4.12,"y":3.90},{"p":"G3(H2)","s":"s2","x":4.25,"y":3.89},{"p":"G3(H2)","s":"s2","x":4.39,"y":3.87},{"p":"G3(H2)","s":"s2","x":4.53,"y":3.86},{"p":"G3(H2)","s":"s2","x":4.67,"y":3.85},{"p":"G3(H2)","s":"s2","x":4.89,"y":3.83},
{"p":"G3(H2)","s":"s3","x":2.33,"y":3.44},{"p":"G3(H2)","s":"s3","x":2.42,"y":3.42},{"p":"G3(H2)","s":"s3","x":2.51,"y":3.43},{"p":"G3(H2)","s":"s3","x":2.61,"y":3.41},{"p":"G3(H2)","s":"s3","x":2.71,"y":3.40},{"p":"G3(H2)","s":"s3","x":2.81,"y":3.40},{"p":"G3(H2)","s":"s3","x":2.91,"y":3.38},{"p":"G3(H2)","s":"s3","x":3.02,"y":3.38},{"p":"G3(H2)","s":"s3","x":3.13,"y":3.36},{"p":"G3(H2)","s":"s3","x":3.24,"y":3.35},{"p":"G3(H2)","s":"s3","x":3.35,"y":3.34},{"p":"G3(H2)","s":"s3","x":3.47,"y":3.32},{"p":"G3(H2)","s":"s3","x":3.59,"y":3.31},{"p":"G3(H2)","s":"s3","x":3.71,"y":3.30},{"p":"G3(H2)","s":"s3","x":3.83,"y":3.29},{"p":"G3(H2)","s":"s3","x":3.96,"y":3.27},{"p":"G3(H2)","s":"s3","x":4.09,"y":3.27},{"p":"G3(H2)","s":"s3","x":4.22,"y":3.25},{"p":"G3(H2)","s":"s3","x":4.35,"y":3.24},{"p":"G3(H2)","s":"s3","x":4.49,"y":3.23},{"p":"G3(H2)","s":"s3","x":4.63,"y":3.21},{"p":"G3(H2)","s":"s3","x":4.77,"y":3.20},{"p":"G3(H2)","s":"s3","x":4.91,"y":3.19},{"p":"G3(H2)","s":"s3","x":5.06,"y":3.17},{"p":"G3(H2)","s":"s3","x":5.21,"y":3.16},{"p":"G3(H2)","s":"s3","x":5.36,"y":3.15},{"p":"G3(H2)","s":"s3","x":5.51,"y":3.13},{"p":"G3(H2)","s":"s3","x":5.67,"y":3.12},{"p":"G3(H2)","s":"s3","x":5.81,"y":3.11},{"p":"G3(H2)","s":"s3","x":5.95,"y":3.09}
]
},
"columns":4,
"spacing":{"row":32,"column":15},
"concat":[
{"width":179,"height":180,"title":{"text":"IgG1","frame":"group","offset":1,"baseline":"alphabetic","dx":5},
 "layer":[
  {"data":{"name":"pts"},"transform":[{"filter":{"field":"p","equal":"IgG1"}}],"mark":{"type":"point","shape":"circle","filled":false,"size":60,"strokeWidth":1.8,"opacity":1},
   "encoding":{"x":{"field":"x","type":"quantitative","scale":{"domain":[0,8],"nice":false,"zero":false},"axis":{"values":[0,2,4,6,8],"title":null}},
    "y":{"field":"y","type":"quantitative","scale":{"domain":[3,6],"nice":false,"zero":false},"axis":{"values":[3,4,5,6],"title":"ln I(q)"}},
    "color":{"field":"s","type":"nominal","scale":{"domain":["s1","s2","s3"],"range":["#0000ff","#ff0000","#000000"]},"legend":null}}},
  {"data":{"name":"ann"},"transform":[{"filter":{"field":"p","equal":"IgG1"}}],"mark":{"type":"text","fontSize":20,"fontWeight":"bold","baseline":"middle","align":"center"},
   "encoding":{"x":{"datum":4.28,"type":"quantitative"},
    "y":{"field":"s","type":"ordinal","scale":{"type":"point","domain":["s1","s2","s3"],"range":[-63,-8],"padding":0},"axis":null},
    "text":{"field":"label"},
    "color":{"field":"s","type":"nominal","scale":{"domain":["s1","s2","s3"],"range":["#0000ff","#ff0000","#000000"]},"legend":null}}}
 ],"resolve":{"scale":{"y":"independent"}}},
{"width":179,"height":180,"title":{"text":"IgG2","frame":"group","offset":1,"baseline":"alphabetic","dx":5},
 "layer":[
  {"data":{"name":"pts"},"transform":[{"filter":{"field":"p","equal":"IgG2"}}],"mark":{"type":"point","shape":"circle","filled":false,"size":60,"strokeWidth":1.8,"opacity":1},
   "encoding":{"x":{"field":"x","type":"quantitative","scale":{"domain":[0,8],"nice":false,"zero":false},"axis":{"values":[0,2,4,6,8],"title":null}},
    "y":{"field":"y","type":"quantitative","scale":{"domain":[2,5],"nice":false,"zero":false},"axis":{"values":[2,3,4,5],"title":null}},
    "color":{"field":"s","type":"nominal","scale":{"domain":["s1","s2","s3"],"range":["#0000ff","#ff0000","#000000"]},"legend":null}}},
  {"data":{"name":"ann"},"transform":[{"filter":{"field":"p","equal":"IgG2"}}],"mark":{"type":"text","fontSize":20,"fontWeight":"bold","baseline":"middle","align":"center"},
   "encoding":{"x":{"datum":4.28,"type":"quantitative"},
    "y":{"field":"s","type":"ordinal","scale":{"type":"point","domain":["s1","s2","s3"],"range":[-63,-8],"padding":0},"axis":null},
    "text":{"field":"label"},
    "color":{"field":"s","type":"nominal","scale":{"domain":["s1","s2","s3"],"range":["#0000ff","#ff0000","#000000"]},"legend":null}}}
 ],"resolve":{"scale":{"y":"independent"}}},
{"width":179,"height":180,"title":{"text":"IgG3","frame":"group","offset":1,"baseline":"alphabetic","dx":5},
 "layer":[
  {"data":{"name":"pts"},"transform":[{"filter":{"field":"p","equal":"IgG3"}}],"mark":{"type":"point","shape":"circle","filled":false,"size":60,"strokeWidth":1.8,"opacity":1},
   "encoding":{"x":{"field":"x","type":"quantitative","scale":{"domain":[0,4],"nice":false,"zero":false},"axis":{"values":[0,1,2,3,4],"title":null}},
    "y":{"field":"y","type":"quantitative","scale":{"domain":[2,5],"nice":false,"zero":false},"axis":{"values":[2,3,4,5],"title":null}},
    "color":{"field":"s","type":"nominal","scale":{"domain":["s1","s2","s3"],"range":["#0000ff","#ff0000","#000000"]},"legend":null}}},
  {"data":{"name":"ann"},"transform":[{"filter":{"field":"p","equal":"IgG3"}}],"mark":{"type":"text","fontSize":20,"fontWeight":"bold","baseline":"middle","align":"center"},
   "encoding":{"x":{"datum":2.13,"type":"quantitative"},
    "y":{"field":"s","type":"ordinal","scale":{"type":"point","domain":["s1","s2","s3"],"range":[-63,-8],"padding":0},"axis":null},
    "text":{"field":"label"},
    "color":{"field":"s","type":"nominal","scale":{"domain":["s1","s2","s3"],"range":["#0000ff","#ff0000","#000000"]},"legend":null}}}
 ],"resolve":{"scale":{"y":"independent"}}},
{"width":179,"height":180,"title":{"text":"G2(H3)","frame":"group","offset":1,"baseline":"alphabetic","dx":5},
 "layer":[
  {"data":{"name":"pts"},"transform":[{"filter":{"field":"p","equal":"G2(H3)"}}],"mark":{"type":"point","shape":"circle","filled":false,"size":60,"strokeWidth":1.8,"opacity":1},
   "encoding":{"x":{"field":"x","type":"quantitative","scale":{"domain":[0,4],"nice":false,"zero":false},"axis":{"values":[0,1,2,3,4],"title":null}},
    "y":{"field":"y","type":"quantitative","scale":{"domain":[2,5],"nice":false,"zero":false},"axis":{"values":[2,3,4,5],"title":null}},
    "color":{"field":"s","type":"nominal","scale":{"domain":["s1","s2","s3"],"range":["#0000ff","#ff0000","#000000"]},"legend":null}}},
  {"data":{"name":"ann"},"transform":[{"filter":{"field":"p","equal":"G2(H3)"}}],"mark":{"type":"text","fontSize":20,"fontWeight":"bold","baseline":"middle","align":"center"},
   "encoding":{"x":{"datum":2.13,"type":"quantitative"},
    "y":{"field":"s","type":"ordinal","scale":{"type":"point","domain":["s1","s2","s3"],"range":[-63,-8],"padding":0},"axis":null},
    "text":{"field":"label"},
    "color":{"field":"s","type":"nominal","scale":{"domain":["s1","s2","s3"],"range":["#0000ff","#ff0000","#000000"]},"legend":null}}}
 ],"resolve":{"scale":{"y":"independent"}}},
{"width":179,"height":178,"title":{"text":"V11(H1)","frame":"group","offset":-9,"baseline":"alphabetic","dx":5},
 "layer":[
  {"data":{"name":"pts"},"transform":[{"filter":{"field":"p","equal":"V11(H1)"}}],"mark":{"type":"point","shape":"circle","filled":false,"size":60,"strokeWidth":1.8,"opacity":1},
   "encoding":{"x":{"field":"x","type":"quantitative","scale":{"domain":[0,8],"nice":false,"zero":false},"axis":{"values":[0,2,4,6,8],"title":"q² ( Å⁻² ) (10⁻⁴)"}},
    "y":{"field":"y","type":"quantitative","scale":{"domain":[3,6],"nice":false,"zero":false},"axis":{"values":[3,4,5,6],"title":"ln I(q)"}},
    "color":{"field":"s","type":"nominal","scale":{"domain":["s1","s2","s3"],"range":["#0000ff","#ff0000","#000000"]},"legend":null}}},
  {"data":{"name":"ann"},"transform":[{"filter":{"field":"p","equal":"V11(H1)"}}],"mark":{"type":"text","fontSize":20,"fontWeight":"bold","baseline":"middle","align":"center"},
   "encoding":{"x":{"datum":4.28,"type":"quantitative"},
    "y":{"field":"s","type":"ordinal","scale":{"type":"point","domain":["s1","s2","s3"],"range":[-67,-12],"padding":0},"axis":null},
    "text":{"field":"label"},
    "color":{"field":"s","type":"nominal","scale":{"domain":["s1","s2","s3"],"range":["#0000ff","#ff0000","#000000"]},"legend":null}}}
 ],"resolve":{"scale":{"y":"independent"}}},
{"width":179,"height":178,"title":{"text":"V11(H2)","frame":"group","offset":-9,"baseline":"alphabetic","dx":5},
 "layer":[
  {"data":{"name":"pts"},"transform":[{"filter":{"field":"p","equal":"V11(H2)"}}],"mark":{"type":"point","shape":"circle","filled":false,"size":60,"strokeWidth":1.8,"opacity":1},
   "encoding":{"x":{"field":"x","type":"quantitative","scale":{"domain":[0,8],"nice":false,"zero":false},"axis":{"values":[0,2,4,6,8],"title":"q² (Å⁻² ) (10⁻⁴)"}},
    "y":{"field":"y","type":"quantitative","scale":{"domain":[2,5],"nice":false,"zero":false},"axis":{"values":[2,3,4,5],"title":null}},
    "color":{"field":"s","type":"nominal","scale":{"domain":["s1","s2","s3"],"range":["#0000ff","#ff0000","#000000"]},"legend":null}}},
  {"data":{"name":"ann"},"transform":[{"filter":{"field":"p","equal":"V11(H2)"}}],"mark":{"type":"text","fontSize":20,"fontWeight":"bold","baseline":"middle","align":"center"},
   "encoding":{"x":{"datum":4.28,"type":"quantitative"},
    "y":{"field":"s","type":"ordinal","scale":{"type":"point","domain":["s1","s2","s3"],"range":[-67,-12],"padding":0},"axis":null},
    "text":{"field":"label"},
    "color":{"field":"s","type":"nominal","scale":{"domain":["s1","s2","s3"],"range":["#0000ff","#ff0000","#000000"]},"legend":null}}}
 ],"resolve":{"scale":{"y":"independent"}}},
{"width":179,"height":178,"title":{"text":"V11(H3)","frame":"group","offset":-9,"baseline":"alphabetic","dx":5},
 "layer":[
  {"data":{"name":"pts"},"transform":[{"filter":{"field":"p","equal":"V11(H3)"}}],"mark":{"type":"point","shape":"circle","filled":false,"size":60,"strokeWidth":1.8,"opacity":1},
   "encoding":{"x":{"field":"x","type":"quantitative","scale":{"domain":[0,4],"nice":false,"zero":false},"axis":{"values":[0,1,2,3,4],"title":"q² (Å⁻² ) (10⁻⁴)"}},
    "y":{"field":"y","type":"quantitative","scale":{"domain":[3,6],"nice":false,"zero":false},"axis":{"values":[3,4,5,6],"title":null}},
    "color":{"field":"s","type":"nominal","scale":{"domain":["s1","s2","s3"],"range":["#0000ff","#ff0000","#000000"]},"legend":null}}},
  {"data":{"name":"ann"},"transform":[{"filter":{"field":"p","equal":"V11(H3)"}}],"mark":{"type":"text","fontSize":20,"fontWeight":"bold","baseline":"middle","align":"center"},
   "encoding":{"x":{"datum":2.13,"type":"quantitative"},
    "y":{"field":"s","type":"ordinal","scale":{"type":"point","domain":["s1","s2","s3"],"range":[-67,-12],"padding":0},"axis":null},
    "text":{"field":"label"},
    "color":{"field":"s","type":"nominal","scale":{"domain":["s1","s2","s3"],"range":["#0000ff","#ff0000","#000000"]},"legend":null}}}
 ],"resolve":{"scale":{"y":"independent"}}},
{"width":179,"height":178,"title":{"text":"G3(H2)","frame":"group","offset":-9,"baseline":"alphabetic","dx":5},
 "layer":[
  {"data":{"name":"pts"},"transform":[{"filter":{"field":"p","equal":"G3(H2)"}}],"mark":{"type":"point","shape":"circle","filled":false,"size":60,"strokeWidth":1.8,"opacity":1},
   "encoding":{"x":{"field":"x","type":"quantitative","scale":{"domain":[0,8],"nice":false,"zero":false},"axis":{"values":[0,2,4,6,8],"title":"q² (Å⁻² ) (10⁻⁴)"}},
    "y":{"field":"y","type":"quantitative","scale":{"domain":[2,5],"nice":false,"zero":false},"axis":{"values":[2,3,4,5],"title":null}},
    "color":{"field":"s","type":"nominal","scale":{"domain":["s1","s2","s3"],"range":["#0000ff","#ff0000","#000000"]},"legend":null}}},
  {"data":{"name":"ann"},"transform":[{"filter":{"field":"p","equal":"G3(H2)"}}],"mark":{"type":"text","fontSize":20,"fontWeight":"bold","baseline":"middle","align":"center"},
   "encoding":{"x":{"datum":4.28,"type":"quantitative"},
    "y":{"field":"s","type":"ordinal","scale":{"type":"point","domain":["s1","s2","s3"],"range":[-67,-12],"padding":0},"axis":null},
    "text":{"field":"label"},
    "color":{"field":"s","type":"nominal","scale":{"domain":["s1","s2","s3"],"range":["#0000ff","#ff0000","#000000"]},"legend":null}}}
 ],"resolve":{"scale":{"y":"independent"}}}
]
}
